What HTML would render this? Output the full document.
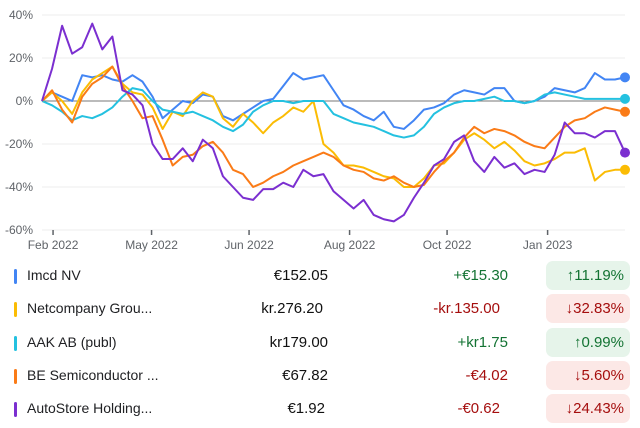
<!DOCTYPE html>
<html><head><meta charset="utf-8"><style>
body{margin:0;width:640px;height:428px;background:#fff;font-family:"Liberation Sans",sans-serif;overflow:hidden;position:relative}
svg{position:absolute;left:0;top:0}
.row{position:absolute;left:0;width:640px;height:30px}
.bar{position:absolute;left:14px;top:8px;width:3px;height:15px;border-radius:2px}
.nm{position:absolute;left:27px;top:6px;font-size:14px;color:#202124}
.pr{position:absolute;right:312px;top:6px;font-size:15px;color:#111}
.ch{position:absolute;right:132px;top:6px;font-size:15px}
.pill{position:absolute;right:10px;top:0;width:84px;height:29px;border-radius:7px;font-size:15px;line-height:29px;text-align:right;box-sizing:border-box;padding-right:6px}
.up{background:#e6f4ea;color:#137333}.dn{background:#fce8e6;color:#a50e0e}
</style></head><body>
<svg id="chart" width="640" height="260"></svg>
<div class="row" style="top:261px"><div class="bar" style="background:#4285f4"></div><div class="nm">Imcd NV</div><div class="pr">€152.05</div><div class="ch" style="color:#137333">+€15.30</div><div class="pill up">↑11.19%</div></div>
<div class="row" style="top:294px"><div class="bar" style="background:#fbbc04"></div><div class="nm">Netcompany Grou...</div><div class="pr" style="right:317px">kr.276.20</div><div class="ch" style="color:#a50e0e;right:140px">-kr.135.00</div><div class="pill dn">↓32.83%</div></div>
<div class="row" style="top:328px"><div class="bar" style="background:#24c1e0"></div><div class="nm">AAK AB (publ)</div><div class="pr">kr179.00</div><div class="ch" style="color:#137333">+kr1.75</div><div class="pill up">↑0.99%</div></div>
<div class="row" style="top:361px"><div class="bar" style="background:#fa7b17"></div><div class="nm">BE Semiconductor ...</div><div class="pr">€67.82</div><div class="ch" style="color:#a50e0e">-€4.02</div><div class="pill dn">↓5.60%</div></div>
<div class="row" style="top:394px"><div class="bar" style="background:#7b2fd0"></div><div class="nm">AutoStore Holding...</div><div class="pr" style="right:315px">€1.92</div><div class="ch" style="color:#a50e0e;right:140px">-€0.62</div><div class="pill dn">↓24.43%</div></div>
<script>
const yTicks=[40,20,0,-20,-40,-60];
const xLabels=["Feb 2022","May 2022","Jun 2022","Aug 2022","Oct 2022","Jan 2023"];
const xLabelIdx=[1.1,10.9,20.6,30.6,40.3,50.3];
const imcd=[0,4,2,0,12,11,12,10,9,12,9,2,-8,-4,0,-1,3,2,-7,-9,-6,-3,0,1,7,13,10,11,12,5,-2,-4,-7,-9,-5,-12,-13,-9,-4,-3,-1,3,5,4,3,6,6,0,-1,0,2,6,5,4,6,13,10,10,11];
const netco=[0,4,0,-6,4,10,13,16,8,4,3,-3,-13,-5,-7,0,4,2,-8,-12,-6,-10,-15,-10,-7,-3,-5,0,-20,-24,-30,-30,-31,-33,-35,-36,-40,-40,-36,-30,-29,-24,-18,-15,-18,-22,-19,-23,-28,-30,-29,-27,-24,-24,-22,-37,-33,-32,-32];
const aak=[0,-2,-5,-9,-7,-8,-6,-3,2,6,5,0,-4,-5,-6,-5,-7,-9,-12,-14,-11,-5,-2,0,0,-1,0,0,0,-6,-8,-10,-11,-12,-14,-16,-17,-16,-12,-6,-3,-1,0,0,1,2,0,0,-1,0,3,4,3,2,1,1,1,1,1];
const besi=[0,5,-4,-10,2,8,11,16,7,0,-8,-7,-18,-30,-26,-25,-21,-19,-24,-32,-34,-40,-38,-35,-33,-30,-28,-26,-24,-26,-30,-32,-33,-36,-37,-35,-38,-40,-39,-33,-28,-24,-17,-12,-15,-13,-14,-16,-19,-21,-22,-17,-12,-9,-8,-5,-3,-4,-5];
const auto=[0,15,35,22,25,36,24,30,5,3,-2,-20,-27,-27,-22,-28,-18,-22,-35,-40,-45,-46,-41,-41,-38,-40,-32,-35,-34,-42,-46,-50,-46,-53,-55,-56,-53,-45,-38,-30,-27,-19,-16,-28,-33,-26,-31,-29,-34,-32,-33,-25,-10,-15,-15,-17,-14,-14,-24];
const seriesList=[[imcd,"#4285f4","imcd"],[netco,"#fbbc04","netcompany"],[aak,"#24c1e0","aak"],[besi,"#fa7b17","besemi"],[auto,"#7b2fd0","autostore"]];
const NS="http://www.w3.org/2000/svg",svg=document.getElementById('chart');
const X0=42,X1=625,N=imcd.length;
const xs=i=>X0+i*(X1-X0)/(N-1);
const ys=v=>101-v*43/20;
function el(t,a){const e=document.createElementNS(NS,t);for(const k in a)e.setAttribute(k,a[k]);svg.appendChild(e);return e;}
yTicks.forEach(v=>{
 const g=el('line',{x1:X0,x2:X1,y1:ys(v),y2:ys(v),stroke:v===0?'#777':'#eeeeee','stroke-width':1});
 
 
 const t=el('text',{x:33,y:ys(v)+4,'text-anchor':'end','font-size':12,fill:'#5f6368'});t.textContent=v+'%';
 
 
});
xLabels.forEach((l,k)=>{
 const x=xs(xLabelIdx[k]);
 const m=el('line',{x1:x,x2:x,y1:230,y2:235,stroke:'#5f6368','stroke-width':1.5});
 
 
 const t=el('text',{x:x,y:249,'text-anchor':'middle','font-size':12,fill:'#5f6368'});t.textContent=l;
 
 
});
seriesList.forEach(([d,c,n])=>{
 const p=el('polyline',{points:d.map((v,i)=>xs(i)+','+ys(v)).join(' '),fill:'none',stroke:c,'stroke-width':2,'stroke-linejoin':'round'});
 
 
});
seriesList.forEach(([d,c,n])=>{
 const e=el('circle',{cx:X1,cy:ys(d[N-1]),r:5,fill:c});
 
 
});
</script>
</body></html>
